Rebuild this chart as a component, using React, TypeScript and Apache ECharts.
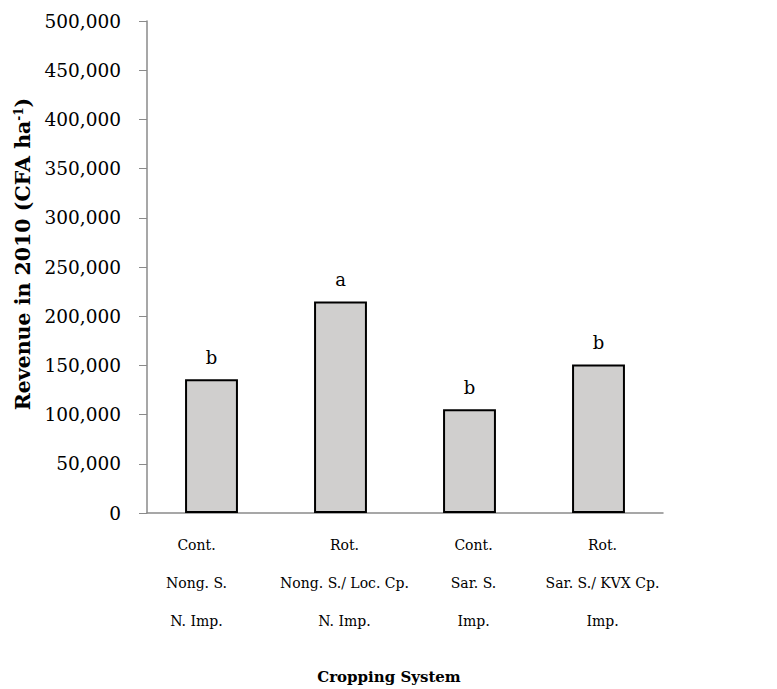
import React, { useEffect, useRef } from "react";
import * as echarts from "echarts";

const categories = [
  "Cont.\nNong. S.\nN. Imp.",
  "Rot.\nNong. S./ Loc. Cp.\nN. Imp.",
  "Cont.\nSar. S.\nImp.",
  "Rot.\nSar. S./ KVX Cp.\nImp.",
];
const revenue = [136000, 215000, 105500, 151000];
const letters = ["b", "a", "b", "b"];
const yTicks = { min: 0, max: 500000, interval: 50000 };
const labelPads = [
  [0, 30, 0, 0],
  [0, 0, 0, 8],
  [0, 0, 0, 8],
  [0, 0, 0, 8],
];

const FONT = "DejaVu Serif";

export default function App() {
  const ref = useRef<HTMLDivElement>(null);
  useEffect(() => {
    if (!ref.current) return;
    const chart = echarts.init(ref.current, undefined, { renderer: "svg" });
    chart.setOption({
      animation: false,
      grid: { left: 147, right: 114, top: 21, bottom: 176, containLabel: false },
      xAxis: {
        type: "category",
        data: categories.map((c, i) => ({ value: c, textStyle: { padding: labelPads[i] } })),
        axisLine: { lineStyle: { color: "#8a8a8a", width: 1.5 } },
        axisTick: { show: false },
        axisLabel: {
          fontFamily: FONT,
          fontSize: 14,
          color: "#000",
          lineHeight: 38,
          margin: 13,
          interval: 0,
        },
      },
      yAxis: {
        type: "value",
        min: yTicks.min,
        max: yTicks.max,
        interval: yTicks.interval,
        splitLine: { show: false },
        axisLine: { show: true, lineStyle: { color: "#8a8a8a", width: 1.5 } },
        axisTick: { show: true, inside: false, length: 8, lineStyle: { color: "#8a8a8a" } },
        axisLabel: {
          fontFamily: FONT,
          fontSize: 18.5,
          color: "#000",
          margin: 26,
          formatter: (v: number) => v.toLocaleString("en-US"),
        },
      },
      series: [
        {
          type: "bar",
          data: revenue,
          barWidth: "41%",
          itemStyle: { color: "#d0cfce", borderColor: "#000", borderWidth: 2 },
          label: {
            show: true,
            position: "top",
            distance: 13,
            fontFamily: FONT,
            fontSize: 18,
            color: "#000",
            formatter: (p: any) => letters[p.dataIndex],
          },
        },
      ],
      graphic: [
        {
          type: "text",
          x: 23,
          y: 254,
          rotation: Math.PI / 2,
          style: {
            text: "Revenue in 2010 (CFA ha{sup|-1})",
            align: "center",
            verticalAlign: "middle",
            fontFamily: FONT,
            fontWeight: "bold",
            fontSize: 20.5,
            fill: "#000",
            rich: {
              sup: {
                fontFamily: FONT,
                fontWeight: "bold",
                fontSize: 12,
                verticalAlign: "top",
                padding: [0, 0, 9, 0],
                fill: "#000",
              },
            },
          },
        },
        {
          type: "text",
          x: 389,
          y: 677,
          style: {
            text: "Cropping System",
            align: "center",
            verticalAlign: "middle",
            fontFamily: FONT,
            fontWeight: "bold",
            fontSize: 15,
            fill: "#000",
          },
        },
      ],
    });
    return () => chart.dispose();
  }, []);
  return <div ref={ref} style={{ width: 777, height: 689, position: "absolute", left: 0, top: 0 }} />;
}
